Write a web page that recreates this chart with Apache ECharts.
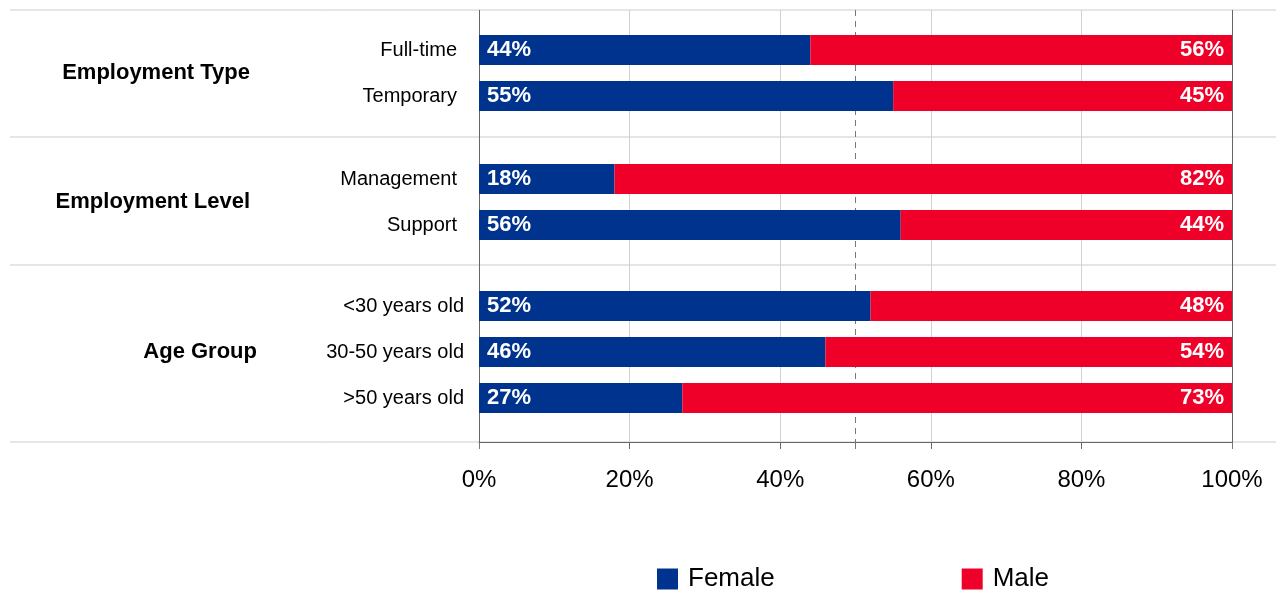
<!DOCTYPE html>
<html>
<head>
<meta charset="utf-8">
<title>Gender split by employment type, level and age</title>
<script src="https://cdn.jsdelivr.net/npm/echarts@6/dist/echarts.min.js"></script>
<style>
  html, body { margin: 0; padding: 0; background: #ffffff; }
  #chart { width: 1276px; height: 593px; }
</style>
</head>
<body>
<div id="chart"></div>
<script>
// ---- data ----
const groupNames = ['Employment Type', 'Employment Level', 'Age Group'];
const typeCategories = ['Full-time', 'Temporary'];
const levelCategories = ['Management', 'Support'];
const ageCategories = ['<30 years old', '30-50 years old', '>50 years old'];
const typeFemale = [44, 55];
const typeMale = [56, 45];
const levelFemale = [18, 56];
const levelMale = [82, 44];
const ageFemale = [52, 46, 27];
const ageMale = [48, 54, 73];
const seriesNames = ['Female', 'Male'];

// ---- layout & style ----
const FONT = '"Liberation Sans", Arial, Helvetica, sans-serif';
const COLORS = { Female: '#00338D', Male: '#EE0028' };
const PLOT = { left: 479, right: 44, top: 10, bottom: 442 };
const ROW = 46;
const BAR_W = 30;
const groupTops = [27, 156, 283];
const separatorYs = [10, 137, 265, 442];
const labelMargins = [22, 22, 15];
const groupLabelRight = [250, 250, 257];

const groups = [
  { name: groupNames[0], cats: typeCategories, female: typeFemale, male: typeMale },
  { name: groupNames[1], cats: levelCategories, female: levelFemale, male: levelMale },
  { name: groupNames[2], cats: ageCategories, female: ageFemale, male: ageMale }
];

const grid = [
  { left: PLOT.left, right: PLOT.right, top: PLOT.top, height: PLOT.bottom - PLOT.top }
];
groups.forEach((g, i) => {
  grid.push({ left: PLOT.left, right: PLOT.right, top: groupTops[i], height: ROW * g.cats.length });
});

const xAxis = [
  {
    gridIndex: 0, type: 'value', min: 0, max: 100, interval: 20,
    axisLine: { show: true, lineStyle: { color: '#666', width: 1 } },
    axisTick: { show: true, length: 7, lineStyle: { color: '#666' } },
    axisLabel: { formatter: '{value}%', color: '#000', fontSize: 24, fontFamily: FONT, margin: 26 },
    splitLine: { show: true, lineStyle: { color: ['#666', '#d2d2d2', '#d2d2d2', '#d2d2d2', '#d2d2d2', '#666'], width: 1 } }
  },
  {
    // dashed 50% reference line
    gridIndex: 0, type: 'value', min: 0, max: 100, interval: 50, position: 'bottom',
    axisLine: { show: false },
    axisTick: { show: true, length: 7, lineStyle: { color: '#777' } },
    axisLabel: { show: false },
    splitLine: { show: true, showMinLine: false, showMaxLine: false,
      lineStyle: { color: '#777', type: [6, 5], width: 1 } }
  }
];
groups.forEach((g, i) => {
  xAxis.push({ gridIndex: i + 1, type: 'value', min: 0, max: 100, show: false });
});

const yAxis = [{ gridIndex: 0, type: 'value', show: false }];
const series = [];
groups.forEach((g, i) => {
  const catAxisIndex = yAxis.length;
  yAxis.push({
    gridIndex: i + 1, type: 'category', inverse: true, data: g.cats,
    axisLine: { show: false }, axisTick: { show: false }, splitLine: { show: false },
    axisLabel: { color: '#000', fontSize: 20, fontFamily: FONT, margin: labelMargins[i] }
  });
  yAxis.push({
    gridIndex: i + 1, type: 'category', data: [g.name], position: 'left',
    offset: PLOT.left - groupLabelRight[i] - 8,
    axisLine: { show: false }, axisTick: { show: false }, splitLine: { show: false },
    axisLabel: { color: '#000', fontSize: 22, fontWeight: 'bold', fontFamily: FONT, margin: 8 }
  });
  [g.female, g.male].forEach((vals, k) => {
    const nm = seriesNames[k];
    series.push({
      type: 'bar', name: nm, stack: 'g' + i,
      xAxisIndex: i + 2, yAxisIndex: catAxisIndex,
      barWidth: BAR_W, data: vals,
      itemStyle: { color: COLORS[nm] },
      emphasis: { disabled: true },
      label: {
        show: true, position: k === 0 ? 'insideLeft' : 'insideRight', distance: 8,
        formatter: '{c}%', color: '#fff', fontSize: 22, fontWeight: 'bold', fontFamily: FONT
      }
    });
  });
});

// horizontal group separators spanning the full width
const graphic = separatorYs.map(y => ({
  type: 'line', z: -1, silent: true,
  shape: { x1: 10, y1: y, x2: 1276, y2: y },
  style: { stroke: '#cccccc', lineWidth: 1 }
}));

const chart = echarts.init(document.getElementById('chart'), null, { renderer: 'canvas' });
chart.setOption({
  animation: false,
  backgroundColor: '#fff',
  textStyle: { fontFamily: FONT },
  grid, xAxis, yAxis, series, graphic,
  legend: {
    data: seriesNames, left: 652, top: 561, icon: 'rect',
    itemWidth: 21, itemHeight: 21, itemGap: 187,
    textStyle: { color: '#000', fontSize: 26, fontFamily: FONT, padding: [0, 0, 0, 5] }
  }
});
</script>
</body>
</html>
